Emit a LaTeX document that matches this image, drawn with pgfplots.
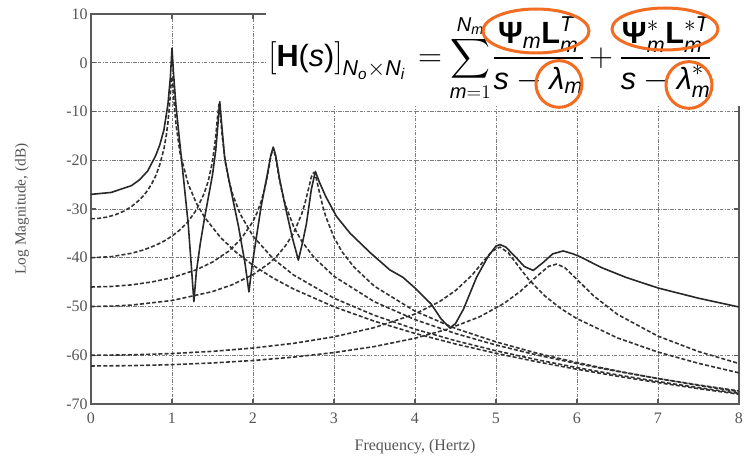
\documentclass[border=0pt]{standalone}
\usepackage{amsmath}
\usepackage{fontspec}
\setmainfont{Liberation Serif}
\newfontfamily\eqf{Liberation Sans}
\usepackage{pgfplots}
\pgfplotsset{compat=1.18}
\definecolor{dcol}{RGB}{50,50,50}
\definecolor{scol}{RGB}{40,40,40}
\definecolor{gcol}{RGB}{125,125,125}
\definecolor{axcol}{RGB}{90,90,90}
\definecolor{labcol}{RGB}{85,85,85}
\definecolor{orng}{RGB}{242,108,34}
\newcommand{\rs}[1]{\text{\eqf #1}}
\newcommand{\is}[1]{\text{\eqf\itshape #1}}
\newcommand{\bs}[1]{\text{\eqf\bfseries #1}}
\begin{document}
\begin{tikzpicture}
\useasboundingbox (-68.25pt,-42.75pt) rectangle (489.75pt,303pt);
\begin{axis}[
  scale only axis, width=486pt, height=292.5pt,
  at={(0,0)}, anchor=south west,
  xmin=0, xmax=8, ymin=-70, ymax=10,
  xtick={0,1,2,3,4,5,6,7,8},
  xticklabels={0,1,2,3,4,5,6,7,8},
  ytick={-70,-60,-50,-40,-30,-20,-10,0,10},
  yticklabels={-70,-60,-50,-40,-30,-20,-10,0,10},
  grid=major,
  major grid style={color=gcol, line width=0.7pt, dash pattern=on 2.5pt off 1pt on 0.8pt off 1pt},
  axis line style={line width=1.6pt, color=axcol},
  tick align=inside, major tick length=4pt,
  tick style={color=axcol, line width=0.9pt},
  ticklabel style={font=\fontsize{12}{14}\selectfont, color=labcol},
  xticklabel style={yshift=-3pt},
  yticklabel style={xshift=1pt},
  xlabel={Frequency, (Hertz)},
  ylabel={Log Magnitude, (dB)},
  xlabel style={at={(axis description cs:0.5,-0.1103)}, anchor=center, font=\fontsize{12}{14}\selectfont, color=labcol},
  ylabel style={at={(axis description cs:-0.1065,0.5)}, anchor=center, font=\fontsize{11.5}{14}\selectfont, color=labcol},
  every axis plot/.append style={line width=1.2pt, line join=round},
]
% mode 1
\addplot[dcol, dash pattern=on 3pt off 1.6pt] coordinates {
(0,-32) (0.1,-31.91) (0.2,-31.65) (0.3,-31.18) (0.4,-30.49) (0.5,-29.5) (0.6,-28.12) (0.65,-27.23) (0.7,-26.15) (0.75,-24.82) (0.8,-23.15) (0.85,-20.87) (0.9,-17.69) (0.93,-14.86) (0.95,-12.26) (0.97,-8.67) (0.99,-4.03) (1.0,-2.88) (1.01,-4.19) (1.03,-9.0) (1.05,-12.74) (1.1,-18.59) (1.2,-24.87) (1.3,-28.78) (1.4,-31.65) (1.6,-35.86) (1.8,-39.0) (2,-41.54) (2.25,-44.18) (2.5,-46.4) (3,-50.06) (3.5,-53.02) (4,-55.52) (4.5,-57.69) (5,-59.6) (5.5,-61.32) (6,-62.88) (6.5,-64.31) (7,-65.62) (7.5,-66.85) (8,-67.99)};
% mode 2
\addplot[dcol, dash pattern=on 3pt off 1.6pt] coordinates {
(0,-40.0) (0.25,-39.78) (0.5,-39.08) (0.65,-38.39) (0.8,-37.43) (0.9,-36.6) (1.0,-35.56) (1.1,-34.25) (1.2,-32.55) (1.3,-30.21) (1.4,-26.69) (1.45,-24.13) (1.5,-20.27) (1.54,-15.2) (1.56,-11.44) (1.58,-8.49) (1.6,-11.14) (1.62,-15.07) (1.66,-20.5) (1.7,-24.0) (1.75,-27.04) (1.84,-30.98) (2.0,-35.56) (2.25,-40.21) (2.5,-43.52) (3,-48.3) (3.5,-51.82) (4,-54.65) (4.5,-57.02) (5,-59.08) (5.5,-60.9) (6,-62.54) (6.5,-64.03) (7,-65.39) (7.5,-66.65) (8,-67.82)};
% mode 3
\addplot[dcol, dash pattern=on 3pt off 1.6pt] coordinates {
(0,-46.0) (0.25,-45.89) (0.5,-45.56) (0.75,-44.97) (1.0,-44.09) (1.3,-42.47) (1.5,-40.89) (1.7,-38.65) (1.85,-36.21) (2.0,-32.55) (2.05,-30.77) (2.1,-28.51) (2.14,-26.16) (2.18,-23.06) (2.22,-19.17) (2.25,-17.5) (2.28,-19.37) (2.32,-23.4) (2.36,-26.64) (2.4,-29.13) (2.5,-33.54) (2.6,-36.58) (2.75,-39.87) (3,-43.81) (3.5,-49.04) (4,-52.69) (4.5,-55.54) (5,-57.9) (5.5,-59.93) (6,-61.72) (6.5,-63.32) (7,-64.77) (7.5,-66.09) (8,-67.32)};
% mode 4
\addplot[dcol, dash pattern=on 3pt off 1.6pt] coordinates {
(0,-50.0) (0.25,-49.93) (0.5,-49.71) (1,-48.77) (1.5,-46.94) (1.75,-45.49) (2,-43.46) (2.2,-41.13) (2.3,-39.56) (2.4,-37.55) (2.5,-35.0) (2.6,-31.09) (2.64,-28.92) (2.68,-26.25) (2.72,-23.45) (2.75,-22.51) (2.78,-23.62) (2.82,-26.56) (2.86,-29.34) (2.9,-31.63) (3,-35.83) (3.1,-38.79) (3.25,-41.97) (3.5,-45.85) (4,-50.95) (4.5,-54.5) (5,-57.26) (5.5,-59.55) (6,-61.51) (6.5,-63.23) (7,-64.78) (7.5,-66.18) (8,-67.46)};
% mode 5
\addplot[dcol, dash pattern=on 3pt off 1.6pt] coordinates {
(0,-60.0) (0.5,-59.92) (1,-59.65) (1.5,-59.2) (2,-58.52) (2.5,-57.56) (3,-56.22) (3.5,-54.32) (4,-51.54) (4.3,-49.03) (4.5,-46.74) (4.7,-43.64) (4.85,-40.64) (4.95,-38.65) (5.05,-37.8) (5.15,-38.96) (5.25,-41.15) (5.4,-44.39) (5.6,-47.79) (5.8,-50.41) (6,-52.5) (6.5,-56.45) (7,-59.35) (7.5,-61.66) (8,-63.61)};
% mode 6
\addplot[dcol, dash pattern=on 3pt off 1.6pt] coordinates {
(0,-62.2) (0.5,-62.13) (1,-61.93) (1.5,-61.58) (2,-61.08) (2.5,-60.38) (3,-59.45) (3.5,-58.21) (4,-56.51) (4.4,-54.66) (4.8,-52.09) (5.1,-49.35) (5.3,-46.9) (5.5,-43.86) (5.65,-41.76) (5.75,-41.3) (5.85,-42.04) (6,-44.44) (6.2,-47.75) (6.5,-51.62) (7,-56.08) (7.5,-59.24) (8,-61.7)};
% total
\addplot[scol, solid] coordinates {
(0,-27.0) (0.25,-26.6) (0.5,-25.2) (0.6,-24.0) (0.7,-22.2) (0.8,-19.0) (0.85,-16.8) (0.9,-13.8) (0.95,-8.5) (0.98,-3.0) (1.0,3.0) (1.02,-2.5) (1.05,-9.0) (1.1,-17.0) (1.15,-25.0) (1.2,-33.0) (1.24,-42.0) (1.27,-49.0) (1.3,-43.0) (1.35,-37.0) (1.4,-32.0) (1.45,-27.5) (1.5,-23.0) (1.54,-18.0) (1.57,-12.0) (1.59,-8.0) (1.61,-12.0) (1.65,-19.5) (1.72,-25.5) (1.82,-33.5) (1.9,-41.0) (1.95,-47.0) (1.99,-41.5) (2.04,-36.0) (2.1,-29.5) (2.17,-23.5) (2.22,-19.0) (2.25,-17.3) (2.28,-19.0) (2.33,-24.0) (2.4,-29.6) (2.48,-35.5) (2.56,-40.5) (2.61,-37.0) (2.66,-33.0) (2.72,-26.0) (2.77,-22.3) (2.82,-24.5) (2.9,-27.5) (3.03,-31.5) (3.2,-35.0) (3.45,-39.0) (3.69,-42.5) (3.85,-44.0) (4.0,-46.2) (4.2,-49.5) (4.32,-52.5) (4.43,-54.4) (4.5,-53.5) (4.6,-50.5) (4.76,-44.0) (4.9,-39.8) (5.0,-37.6) (5.05,-37.3) (5.12,-37.8) (5.25,-40.0) (5.35,-41.8) (5.46,-42.6) (5.58,-41.0) (5.7,-39.2) (5.83,-38.6) (5.95,-39.2) (6.04,-39.8) (6.3,-42.0) (6.6,-44.0) (7.0,-46.2) (7.5,-48.3) (8.0,-50.1)};
\end{axis}
% white cover behind the equation
\fill[white] (131.25pt,223.5pt) rectangle (492pt,306pt);
\begin{scope}[every node/.style={inner sep=0pt, font=\fontsize{23}{27}\selectfont}]
\node[anchor=base west] at (132.75pt,253.3pt) {$\displaystyle \left[\bs{H}\rs{(}\is{s}\rs{)}\right]_{\is{N}_{\is{o}}\times\is{N}_{\is{i}}}$};
\node[anchor=base] at (254.25pt,253.3pt) {$=$};
\node[anchor=base, font=\fontsize{21.5}{26}\selectfont] at (284.5pt,253.3pt) {$\displaystyle\sum_{\is{m}=1}^{\is{N}_{\is{m}}}$};
\node[anchor=base] at (335.5pt,253.3pt) {$\displaystyle\frac{\bs{Ψ}_{\is{m}}\bs{L}_{\is{m}}^{\is{T}}}{\is{s}-\is{λ}_{\is{m}}}$};
\node[anchor=base] at (382.5pt,253.3pt) {$+$};
\node[anchor=base] at (431pt,253.3pt) {$\displaystyle\frac{\bs{Ψ}^{*}_{\is{m}}\bs{L}^{*\is{T}}_{\is{m}}}{\is{s}-\is{λ}^{*}_{\is{m}}}$};
\end{scope}
\draw[orng, line width=2.25pt] (333.75pt,279.75pt) ellipse [x radius=39.75pt, y radius=16.5pt];
\draw[orng, line width=2.25pt] (430.5pt,281.25pt) ellipse [x radius=39.75pt, y radius=15.75pt];
\draw[orng, line width=2.25pt] (351pt,240pt) ellipse [x radius=17.25pt, y radius=17.5pt];
\draw[orng, line width=2.25pt] (448.5pt,239.25pt) ellipse [x radius=17.25pt, y radius=17.5pt];
\end{tikzpicture}
\end{document}
